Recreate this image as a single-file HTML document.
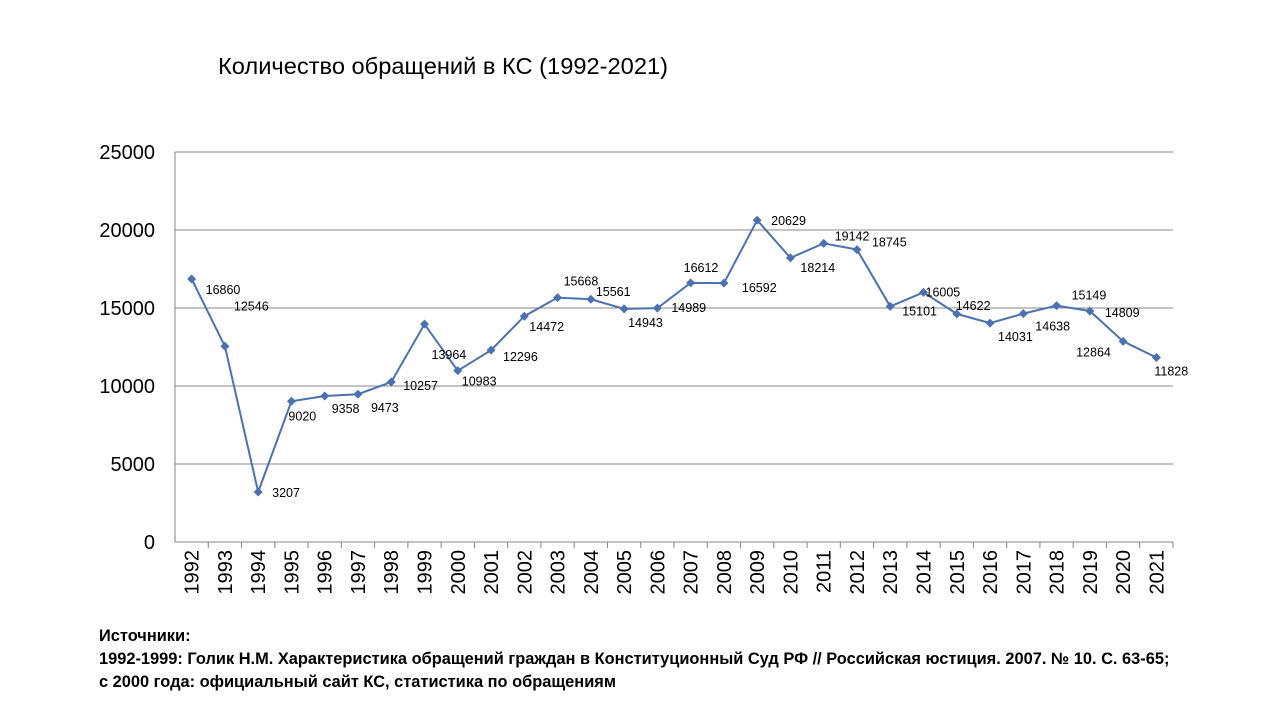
<!DOCTYPE html>
<html><head><meta charset="utf-8"><style>
body{margin:0;background:#fff;width:1280px;height:720px;overflow:hidden;font-family:"Liberation Sans","DejaVu Sans",sans-serif}
svg{position:absolute;left:0;top:0}
.src{position:absolute;left:99px;font-weight:bold;font-size:16.4px;color:#000;white-space:nowrap}
</style></head><body>
<svg width="1280" height="720" id="chart">
<text x="218" y="74" font-size="23" textLength="450" lengthAdjust="spacingAndGlyphs" fill="#000">Количество обращений в КС (1992-2021)</text>
</svg>
<div class="src" style="top:627px">Источники:</div>
<div class="src" style="top:650px">1992-1999: Голик Н.М. Характеристика обращений граждан в Конституционный Суд РФ // Российская юстиция. 2007. № 10. С. 63-65;</div>
<div class="src" style="top:673px">с 2000 года: официальный сайт КС, статистика по обращениям</div>
<script>
const years=[1992,1993,1994,1995,1996,1997,1998,1999,2000,2001,2002,2003,2004,2005,2006,2007,2008,2009,2010,2011,2012,2013,2014,2015,2016,2017,2018,2019,2020,2021];
const values=[16860,12546,3207,9020,9358,9473,10257,13964,10983,12296,14472,15668,15561,14943,14989,16612,16592,20629,18214,19142,18745,15101,16005,14622,14031,14638,15149,14809,12864,11828];
const yTicks=[0,5000,10000,15000,20000,25000];
const labelDx=[14,9,14,-3,7,13,12,7,4,12,5,6,5,4,14,-7,18,14,10,11,15,12,2,-1,8,12,15,15,-47,-2];
const labelDy=[11,-40,1,15,13,14,4,31,11,7,11,-16,-7,14,0,-15,5,1,10,-7,-7,5,0,-8,14,13,-10,2,11,14];
const NS="http://www.w3.org/2000/svg";
const svg=document.getElementById('chart');
const L=175,R=1173,T=152,B=542,yMax=25000;
const bw=(R-L)/years.length;
const xs=i=>L+bw*(i+0.5);
const ys=v=>B-(v/yMax)*(B-T);
function mk(tag,attrs){const e=document.createElementNS(NS,tag);for(const k in attrs)e.setAttribute(k,attrs[k]);svg.appendChild(e);return e;}
yTicks.forEach(t=>{
  const g=mk('line',{x1:L,x2:R,y1:ys(t),y2:ys(t),stroke:t===0?'#868686':'#888','stroke-width':1});
  
  
  const tx=mk('text',{x:155,y:ys(t)+7,'font-size':20,'text-anchor':'end',fill:'#000'});
  tx.textContent=t;
  
  
});
const ax=mk('line',{x1:L,x2:L,y1:T,y2:B,stroke:'#868686'});


years.forEach((y,i)=>{
  const tk=mk('line',{x1:L+bw*(i+1),x2:L+bw*(i+1),y1:B,y2:B+6,stroke:'#868686'});
  
  
  const x=xs(i)+7;
  const t=mk('text',{x:x,y:B+8,'font-size':20,'text-anchor':'end',fill:'#000',transform:`rotate(-90 ${x} ${B+8})`});
  t.textContent=y;
  
  
});
const pts=values.map((v,i)=>xs(i)+','+ys(v)).join(' ');
const line=mk('polyline',{points:pts,fill:'none',stroke:'#4a72b0','stroke-width':2});


values.forEach((v,i)=>{
  const x=xs(i),y=ys(v);
  const m=mk('path',{d:`M${x} ${y-4.5}L${x+4.5} ${y}L${x} ${y+4.5}L${x-4.5} ${y}Z`,fill:'#4a72b0'});
  
  
  const t=mk('text',{x:x+labelDx[i],y:y+labelDy[i]+4,'font-size':12.5,fill:'#000'});
  t.textContent=v;
  
  
});
</script>
</body></html>
